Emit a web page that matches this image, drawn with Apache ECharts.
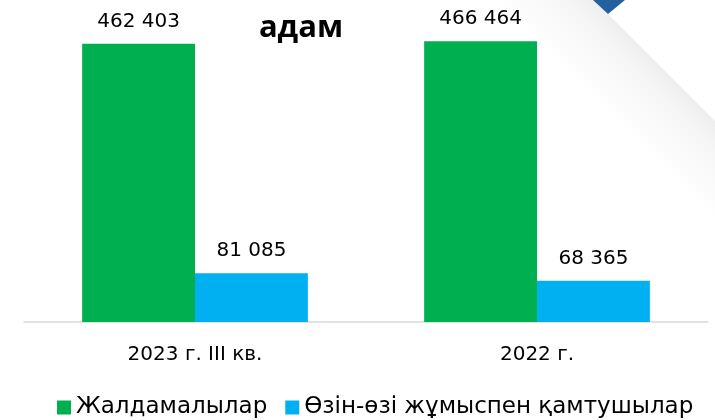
<!DOCTYPE html>
<html>
<head>
<meta charset="utf-8">
<script src="https://cdn.jsdelivr.net/npm/echarts@6/dist/echarts.min.js"></script>
<style>
    html, body { margin: 0; padding: 0; background: #fff; }
    #main { width: 715px; height: 420px; }
</style>
</head>
<body>
<div id="main"></div>
<script>
// данные
var categories = ['2023 г. III кв.', '2022 г.'];
var hired = [462403, 466464];
var selfEmployed = [81085, 68365];
var seriesNames = ['Жалдамалылар', 'Өзін-өзі жұмыспен қамтушылар'];

var FONT = "'DejaVu Sans', sans-serif";

function fmt(v) {
    return String(v).replace(/\B(?=(\d{3})+(?!\d))/g, ' ');
}

window.onload = function () {
    var myChart = echarts.init(document.getElementById('main'));

    var option = {
        backgroundColor: '#fff',
        animation: false,
        title: {
            text: 'адам',
            left: 296,
            top: 8,
            textAlign: 'center',
            textStyle: {
                fontFamily: "'Open Sans', sans-serif",
                fontWeight: 'bold',
                fontSize: 31,
                color: '#000'
            }
        },
        // уголок справа сверху
        graphic: [{
            type: 'polygon',
            z: -1,
            silent: true,
            shape: { points: [[594, 0], [715, 121], [715, 420], [300, 0]] },
            style: {
                fill: new echarts.graphic.LinearGradient(661, 67, 611, 117, [
                    { offset: 0, color: '#eeeeee' },
                    { offset: 0.3, color: '#f6f6f6' },
                    { offset: 1, color: '#ffffff' }
                ], true)
            }
        }, {
            type: 'polygon',
            silent: true,
            shape: { points: [[593, 0], [625, 0], [608, 14]] },
            style: { fill: '#23609f' }
        }],
        legend: {
            top: 391,
            left: 52,
            itemWidth: 14,
            itemHeight: 14,
            itemGap: 18,
            icon: 'rect',
            textStyle: { fontFamily: FONT, fontSize: 23, color: '#000' },
            data: seriesNames
        },
        grid: {
            left: 24,
            right: 7,
            top: 21,
            bottom: 98
        },
        xAxis: {
            type: 'category',
            data: categories,
            axisLine: { lineStyle: { color: '#d9d9d9', width: 1.5 } },
            axisTick: { show: false },
            axisLabel: {
                margin: 23,
                fontFamily: FONT,
                fontSize: 20,
                color: '#000'
            }
        },
        yAxis: {
            type: 'value',
            min: 0,
            max: 500000,
            show: false,
            splitLine: { show: false }
        },
        series: [{
            name: seriesNames[0],
            type: 'bar',
            data: hired,
            barGap: '0%',
            barCategoryGap: '34%',
            itemStyle: { color: '#00b050' },
            label: {
                show: true,
                position: 'top',
                distance: 12,
                fontFamily: FONT,
                fontSize: 20,
                color: '#000',
                formatter: function (p) { return fmt(p.value); }
            }
        }, {
            name: seriesNames[1],
            type: 'bar',
            data: selfEmployed,
            itemStyle: { color: '#00b0f0' },
            label: {
                show: true,
                position: 'top',
                distance: 12,
                fontFamily: FONT,
                fontSize: 20,
                color: '#000',
                formatter: function (p) { return fmt(p.value); }
            }
        }]
    };

    myChart.setOption(option);
};
</script>
</body>
</html>
